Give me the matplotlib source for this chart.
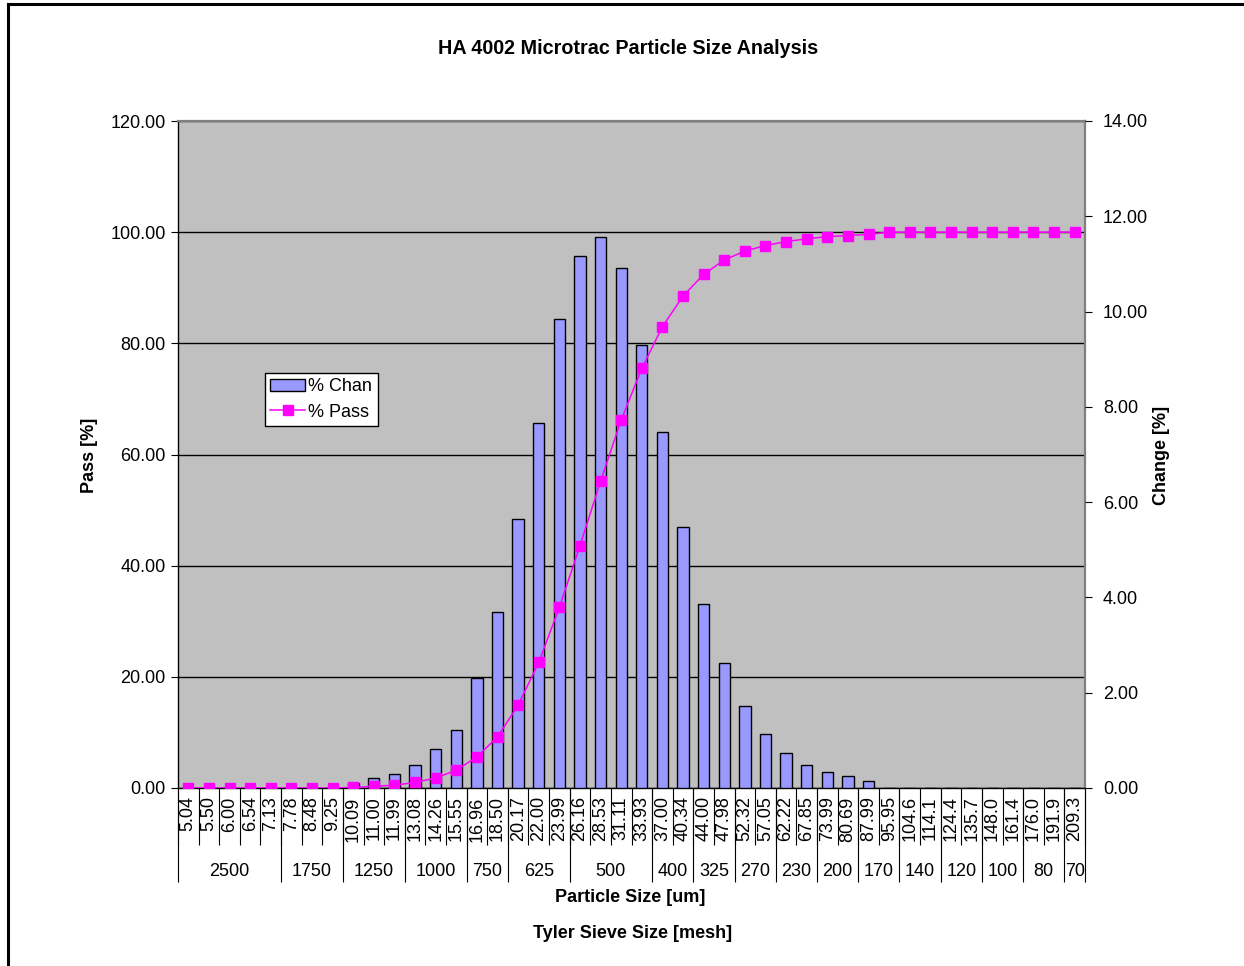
import matplotlib
matplotlib.use('Agg')
import matplotlib.pyplot as plt
from matplotlib.lines import Line2D
from matplotlib.ticker import FixedLocator, FormatStrFormatter, MultipleLocator, NullFormatter

plt.rcParams['font.family'] = ['Liberation Sans', 'DejaVu Sans']
plt.rcParams['font.size'] = 13

# particle size channels [um]
sizes = ['5.04', '5.50', '6.00', '6.54', '7.13', '7.78', '8.48', '9.25', '10.09', '11.00',
         '11.99', '13.08', '14.26', '15.55', '16.96', '18.50', '20.17', '22.00', '23.99', '26.16',
         '28.53', '31.11', '33.93', '37.00', '40.34', '44.00', '47.98', '52.32', '57.05', '62.22',
         '67.85', '73.99', '80.69', '87.99', '95.95', '104.6', '114.1', '124.4', '135.7', '148.0',
         '161.4', '176.0', '191.9', '209.3']

# % in channel (right axis)
chan = [0, 0, 0, 0, 0, 0, 0, 0, 0.11, 0.20,
        0.30, 0.49, 0.82, 1.22, 2.31, 3.69, 5.65, 7.66, 9.85, 11.17,
        11.56, 10.92, 9.29, 7.48, 5.48, 3.87, 2.62, 1.73, 1.13, 0.73,
        0.48, 0.34, 0.25, 0.15, 0, 0, 0, 0, 0, 0,
        0, 0, 0, 0]

# cumulative % passing (left axis)
passing = [0, 0, 0, 0, 0, 0, 0, 0, 0.1, 0.3,
           0.5, 1.0, 1.8, 3.2, 5.6, 9.2, 14.9, 22.6, 32.5, 43.6,
           55.2, 66.2, 75.5, 83.0, 88.5, 92.4, 95.0, 96.6, 97.6, 98.3,
           98.8, 99.2, 99.4, 99.6, 100, 100, 100, 100, 100, 100,
           100, 100, 100, 100]

# Tyler sieve groups: label and number of size channels covered
mesh_labels = ['2500', '1750', '1250', '1000', '750', '625', '500', '400', '325', '270',
               '230', '200', '170', '140', '120', '100', '80', '70']
mesh_counts = [5, 3, 3, 3, 2, 3, 4, 2, 2, 2, 2, 2, 2, 2, 2, 2, 2, 1]

W, H = 1244, 966
left, right, top, bottom = 178, 1085, 121, 788
plot_h = bottom - top

fig = plt.figure(figsize=(W / 100, H / 100), dpi=100)
ax = fig.add_axes((left / W, 1 - bottom / H, (right - left) / W, plot_h / H))
axb = ax.twinx()
axl = ax.twinx()
ax.set_zorder(0)
axb.set_zorder(1)
axl.set_zorder(2)
ax.set_facecolor('#c0c0c0')

n = len(sizes)
xs = [i + 0.5 for i in range(n)]

# background axis: pass scale, gridlines
ax.set_xlim(0, n)
ax.set_ylim(0, 120)
ax.yaxis.set_major_locator(MultipleLocator(20))
ax.yaxis.set_major_formatter(FormatStrFormatter('%.2f'))
ax.grid(axis='y', color='black', linewidth=1.0)
ax.tick_params(axis='y', direction='out', length=5, width=0.8, pad=4, color='black')
for side in ('top', 'right'):
    ax.spines[side].set_color('#808080')
    ax.spines[side].set_linewidth(1.6)
ax.spines['left'].set_color('black')
ax.spines['bottom'].set_color('black')
ax.spines['left'].set_linewidth(1.0)
ax.spines['bottom'].set_linewidth(1.0)

ax.xaxis.set_major_locator(FixedLocator(range(n + 1)))
ax.xaxis.set_major_formatter(NullFormatter())
ax.xaxis.set_minor_locator(FixedLocator(xs))
ax.xaxis.set_minor_formatter(plt.FixedFormatter(sizes))
ax.tick_params(axis='x', which='major', direction='out', length=41, width=0.8, color='black')
ax.tick_params(axis='x', which='minor', length=0, pad=6, labelrotation=90)

# sieve group separators and labels
bounds = [0]
for c in mesh_counts:
    bounds.append(bounds[-1] + c)
xt = ax.get_xaxis_transform()
ax.vlines(bounds, -(882 - bottom) / plot_h, 0, transform=xt, colors='black',
          linewidth=0.8, clip_on=False)
for lab, a, b in zip(mesh_labels, bounds[:-1], bounds[1:]):
    ax.text((a + b) / 2, -(871 - bottom) / plot_h, lab, transform=xt,
            ha='center', va='center', fontsize=13)

# bars: % in channel on right axis
bars = axb.bar(xs, chan, width=0.55, color='#9999ff', edgecolor='black', linewidth=1.0)
axb.set_ylim(0, 14)
axb.yaxis.set_major_locator(MultipleLocator(2))
axb.yaxis.set_major_formatter(FormatStrFormatter('%.2f'))
axb.tick_params(axis='y', direction='out', length=5, width=0.8, pad=8, color='black')
for sp in axb.spines.values():
    sp.set_visible(False)

# line: cumulative passing on left scale
line, = axl.plot(xs, passing, color='#ff00ff', linewidth=1.1, marker='s',
                 markersize=7.5, markerfacecolor='#ff00ff', markeredgecolor='#ff00ff')
axl.set_ylim(0, 120)
axl.set_yticks([])
for sp in axl.spines.values():
    sp.set_visible(False)

leg = axl.legend([bars, line], ['% Chan', '% Pass'], loc='upper left',
                 bbox_to_anchor=((265 - left) / (right - left), (bottom - 373) / plot_h),
                 bbox_transform=ax.transAxes, borderaxespad=0, fancybox=False,
                 framealpha=1, edgecolor='black', fontsize=13, handlelength=1.9,
                 handletextpad=0.2, borderpad=0.3, labelspacing=0.45)
leg.get_frame().set_linewidth(1.0)

fig.text(628 / W, 1 - 48 / H, 'HA 4002 Microtrac Particle Size Analysis',
         ha='center', va='center', fontsize=14.2, fontweight='bold')
fig.text(90 / W, 1 - 455 / H, 'Pass [%]', rotation=90, ha='center', va='center',
         fontsize=13, fontweight='bold')
fig.text(1162 / W, 1 - 455 / H, 'Change [%]', rotation=90, ha='center', va='center',
         fontsize=13, fontweight='bold')
fig.text(630 / W, 1 - 898 / H, 'Particle Size [um]', ha='center', va='center',
         fontsize=13, fontweight='bold')
fig.text(633 / W, 1 - 934 / H, 'Tyler Sieve Size [mesh]', ha='center', va='center',
         fontsize=13, fontweight='bold')

# outer chart border (only left and top edges are inside the image)
fig.add_artist(Line2D([8 / W, 8 / W], [0, 1 - 4 / H], color='black', linewidth=2.2))
fig.add_artist(Line2D([8 / W, 1], [1 - 4 / H, 1 - 4 / H], color='black', linewidth=2.2))

fig.savefig('out.png', dpi=100)
